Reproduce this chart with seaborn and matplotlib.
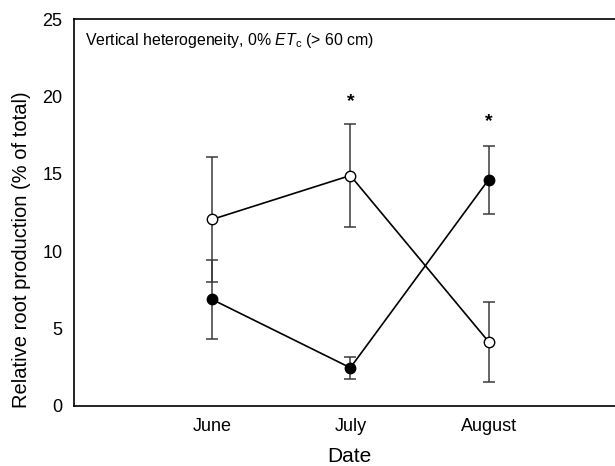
import numpy as np
import pandas as pd
import seaborn as sns
import matplotlib
matplotlib.use("Agg")
import matplotlib.pyplot as plt

sns.set_style("white")
plt.rcParams["font.family"] = ["Liberation Sans", "DejaVu Sans"]
plt.rcParams["mathtext.fontset"] = "custom"
plt.rcParams["mathtext.rm"] = "Liberation Sans"
plt.rcParams["mathtext.it"] = "Liberation Sans:italic"
plt.rcParams["text.color"] = "black"
plt.rcParams["axes.labelcolor"] = "black"

# Sampling months and relative root production (% of total)
months = ["June", "July", "August"]
open_mean = [12.06, 14.90, 4.15]
open_err = [4.03, 3.35, 2.60]
filled_mean = [6.89, 2.47, 14.64]
filled_err = [2.55, 0.71, 2.20]
# Months with a significant difference between treatments
sig_months = ["July", "August"]
sig_height = [19.7, 18.4]

pos = np.arange(1, len(months) + 1)
month_pos = dict(zip(months, pos))

df = pd.concat([
    pd.DataFrame({"x": pos, "y": open_mean, "err": open_err, "grp": "open"}),
    pd.DataFrame({"x": pos, "y": filled_mean, "err": filled_err, "grp": "filled"}),
])

fig = plt.figure(figsize=(6.15, 4.66), dpi=100)
ax = fig.add_axes([0.1198, 0.1288, 0.8997, 0.8298])

err_color = "#3a3a3a"
for grp in ["open", "filled"]:
    d = df[df.grp == grp]
    ax.errorbar(d.x, d.y, yerr=d.err, fmt="none", ecolor=err_color,
                elinewidth=1.1, capsize=4.3, capthick=1.1, zorder=2)

sns.lineplot(data=df[df.grp == "open"], x="x", y="y", ax=ax, color="black",
             linewidth=1.2, marker="o", markersize=7.5, markerfacecolor="white",
             markeredgecolor="black", markeredgewidth=1.0, zorder=3)
sns.lineplot(data=df[df.grp == "filled"], x="x", y="y", ax=ax, color="black",
             linewidth=1.2, marker="o", markersize=7.5, markerfacecolor="black",
             markeredgecolor="black", markeredgewidth=1.0, zorder=3)

for m, h in zip(sig_months, sig_height):
    ax.text(month_pos[m], h, "*", ha="center", va="center", fontsize=14,
            fontweight="bold", color="black")

ax.set_xlim(0, 4)
ax.set_ylim(0, 25)
ax.set_xticks(pos)
ax.set_xticklabels(months)
ax.set_yticks([0, 5, 10, 15, 20, 25])
ax.tick_params(axis="both", direction="in", length=5, width=1.0,
               labelsize=13, colors="black")
ax.tick_params(axis="y", pad=8)
ax.tick_params(axis="x", pad=9)

for side in ["left", "bottom", "top"]:
    ax.spines[side].set_color("black")
    ax.spines[side].set_linewidth(1.2)
ax.spines["right"].set_visible(False)

ax.set_xlabel("Date", fontsize=15, color="black")
ax.set_ylabel("Relative root production (% of total)", fontsize=14.5, color="black")
ax.xaxis.set_label_coords(0.499, -0.106)
ax.yaxis.set_label_coords(-0.077, 0.405)

ax.text(0.085, 23.6, r"Vertical heterogeneity, 0% $\mathit{ET}_\mathrm{c}$ (> 60 cm)",
        ha="left", va="center", fontsize=11.4, color="black")

fig.savefig("out.png", dpi=100)
